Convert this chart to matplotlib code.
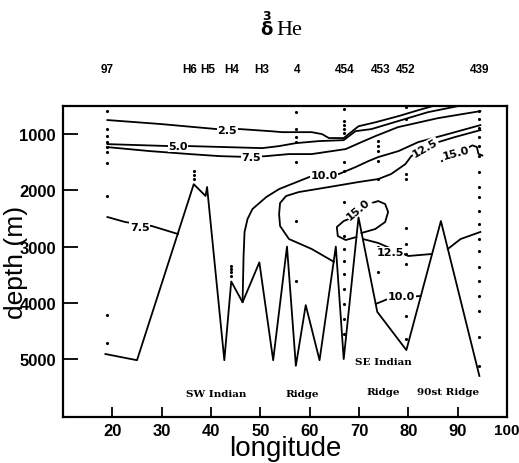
import matplotlib
matplotlib.use('Agg')
import matplotlib.pyplot as plt

# bottom topography along the section
topo_lon = [18.6, 25.0, 36.5, 38.9, 39.2, 42.7, 44.1, 46.4, 49.8, 52.6, 55.4, 57.2, 59.2, 62.0, 65.3, 66.9, 69.9, 73.7, 79.6, 86.6, 94.4]
topo_depth = [4910, 5020, 1890, 2100, 1940, 5020, 3620, 3990, 3280, 5020, 3000, 5120, 4040, 5020, 3000, 5000, 2480, 4160, 4840, 2545, 5300]

# contour lines of delta 3He (hand traced)
c25_lon = [19.0, 29.7, 41.1, 45.8, 52.4, 54.4, 60.4, 62.5, 63.9, 66.9, 69.9, 73.3, 78.0, 82.0, 85.0]
c25_depth = [750, 820, 910, 910, 950, 965, 965, 1000, 1070, 1070, 860, 790, 680, 575, 500]

c50_lon = [19.0, 31.7, 35.7, 50.4, 53.8, 57.2, 61.9, 66.9, 69.3, 72.5, 77.9, 84.0, 90.0]
c50_depth = [1178, 1213, 1213, 1249, 1213, 1160, 1124, 1107, 947, 911, 769, 609, 503]

c75a_lon = [19.0, 27.6, 35.7, 41.7, 48.2, 51.2, 55.8, 60.4, 67.3, 70.5, 73.3, 77.9, 86.0, 94.6]
c75a_depth = [1231, 1302, 1355, 1391, 1408, 1391, 1355, 1355, 1266, 1142, 1036, 876, 716, 591]

c75b_lon = [19.0, 22.6, 28.0, 33.3]
c75b_depth = [2474, 2563, 2634, 2776]

c100a_lon = [46.4, 46.6, 46.8, 47.4, 48.4, 51.2, 53.8, 60.4, 65.9, 69.3, 71.9, 73.9, 78.0, 82.0, 88.0, 94.6]
c100a_depth = [3984, 3167, 2740, 2510, 2332, 2119, 1977, 1746, 1710, 1586, 1480, 1408, 1302, 1142, 1000, 840]

c100b_lon = [73.4, 75.9, 82.5]
c100b_depth = [4019, 3930, 3877]

c125a_lon = [94.6, 89.4, 85.4, 83.4, 80.6, 79.4, 76.5, 73.9, 69.9, 63.9, 57.8, 55.2, 54.0, 53.8, 54.0, 55.8, 60.4, 64.9]
c125a_depth = [929, 1053, 1160, 1249, 1391, 1533, 1710, 1799, 1852, 1941, 2030, 2101, 2225, 2421, 2634, 2865, 3042, 3270]

c125b_lon = [70.8, 73.9, 80.0, 84.8]
c125b_depth = [2865, 2936, 3167, 3131]
c125c_lon = [88.0, 90.6, 94.6]
c125c_depth = [3042, 2865, 2740]

c150a_lon = [69.45, 67.3, 65.7, 65.5, 66.9, 67.9, 69.9, 71.9, 73.9, 75.3, 75.9, 75.3, 73.3, 70.5]
c150a_depth = [2830, 2883, 2812, 2652, 2545, 2510, 2368, 2243, 2190, 2243, 2385, 2563, 2687, 2758]

c150b_lon = [86.8, 93.0, 93.9, 94.2, 95.0]
c150b_depth = [1480, 1200, 1230, 1350, 1380]

# contour labels: text, lon, depth, rotation
lab_text = ['2.5', '5.0', '7.5', '7.5', '10.0', '10.0', '12.5', '12.5', '15.0', '15.0']
lab_lon = [43.3, 33.3, 48.2, 25.6, 62.9, 78.6, 83.4, 76.3, 69.9, 89.6]
lab_depth = [930, 1213, 1410, 2650, 1730, 3880, 1240, 3100, 2330, 1330]
lab_rot = [0, 0, 0, 0, 0, 0, 30, 0, 40, 15]

# stations (top labels)
st_names = ['97', 'H6', 'H5', 'H4', 'H3', '4', '454', '453', '452', '439']
st_lon = [19.0, 35.7, 39.3, 44.1, 50.3, 57.4, 67.1, 74.3, 79.5, 94.4]

# sample depths at the stations
samp = {
    19.0: [591, 911, 1036, 1142, 1231, 1320, 1515, 2101, 4215, 4712],
    36.5: [1657, 1728, 1799],
    44.1: [3344, 3398, 3451, 3522],
    57.3: [609, 911, 1053, 1142, 1497, 2545, 3611],
    67.0: [556, 769, 840, 911, 982, 1497, 1657, 2208, 2812, 3042, 3256, 3486, 3753, 4019, 4286, 4552],
    73.9: [1124, 1213, 1302, 1480, 1799, 3007, 3451],
    79.6: [520, 734, 1710, 1799, 2669, 2954, 3131, 3309, 4232, 4641],
    94.4: [591, 734, 893, 1053, 1213, 1391, 1675, 1941, 2119, 2368, 2598, 2865, 3078, 3362, 3611, 3877, 4144, 4605, 5120],
}

# ridge names
reg_text = ['SW Indian', 'Ridge', 'Ridge', '90st Ridge', 'SE Indian']
reg_lon = [41.1, 58.4, 74.9, 88.0, 74.9]
reg_depth = [5618, 5618, 5582, 5582, 5050]

fig = plt.figure(figsize=(5.19, 4.64), dpi=100)
ax = fig.add_axes([0.1214, 0.0991, 0.8555, 0.6703])

lw = 1.3
ax.plot(topo_lon, topo_depth, color='black', linewidth=lw)
for xs, ys in [(c25_lon, c25_depth), (c50_lon, c50_depth), (c75a_lon, c75a_depth), (c75b_lon, c75b_depth),
               (c100a_lon, c100a_depth), (c100b_lon, c100b_depth), (c125a_lon, c125a_depth),
               (c125b_lon, c125b_depth), (c125c_lon, c125c_depth), (c150a_lon, c150a_depth), (c150b_lon, c150b_depth)]:
    ax.plot(xs, ys, color='black', linewidth=lw)

for t, x, y, r in zip(lab_text, lab_lon, lab_depth, lab_rot):
    ax.text(x, y, t, fontsize=8, fontweight='bold', ha='center', va='center', rotation=r,
            bbox=dict(facecolor='white', edgecolor='none', pad=0.5))

for x in samp:
    ax.plot([x] * len(samp[x]), samp[x], 'k.', markersize=2.5)

for t, x, y in zip(reg_text, reg_lon, reg_depth):
    ax.text(x, y, t, family='DejaVu Serif', fontsize=7.5, fontweight='bold', ha='center', va='center')

for t, x in zip(st_names, st_lon):
    ax.text(x, 1.119, t, transform=ax.get_xaxis_transform(), fontsize=8.5, fontweight='bold',
            family='Liberation Sans', ha='center', va='center')

ax.set_xlim(10, 100)
ax.set_ylim(6030, 500)
ax.set_xticks(range(20, 101, 10))
ax.set_yticks([1000, 2000, 3000, 4000, 5000])
for lbl in ax.get_xticklabels() + ax.get_yticklabels():
    lbl.set_family('Liberation Sans')
    lbl.set_fontweight('bold')
    lbl.set_fontsize(12)
ax.get_xticklabels()[-1].set_fontsize(11)
ax.tick_params(axis='y', direction='in', length=11, width=1.3, pad=5)
ax.tick_params(axis='x', direction='in', length=7, width=1.3, pad=4)
for sp in ax.spines.values():
    sp.set_linewidth(1.6)

ax.set_xlabel('longitude', family='Liberation Sans', fontsize=20, labelpad=-2)
ax.set_ylabel('depth (m)', family='Liberation Sans', fontsize=19)
ax.yaxis.set_label_coords(-0.078, 0.5)

# title: delta 3He
fig.text(0.514, 0.935, '\u03b4', family='DejaVu Sans', fontsize=13, fontweight='bold', ha='center', va='center')
fig.text(0.533, 0.935, 'He', family='Liberation Serif', fontsize=16, ha='left', va='center')
fig.text(0.513, 0.965, '3', family='DejaVu Sans', fontsize=9, fontweight='bold', ha='center', va='center')

plt.savefig('out.png', dpi=100)
